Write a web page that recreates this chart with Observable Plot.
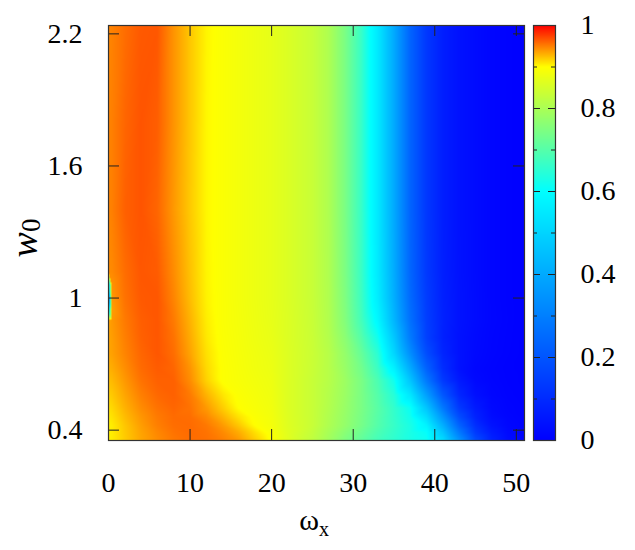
<!DOCTYPE html>
<html><head><meta charset="utf-8">
<script src="https://cdn.jsdelivr.net/npm/d3@7"></script>
<script src="https://cdn.jsdelivr.net/npm/@observablehq/plot@0.6"></script>
<style>
body{margin:0;background:#fff;}
#wrap{position:relative;width:635px;height:550px;background:#fff;}
#wrap svg{position:absolute;left:0;top:0;}
</style></head><body><div id="wrap"></div>
<script>
// grid of omega_x values (columns) and w0 values (rows)
const xs = [0,0.4,2,4,6,8,10,12,14,16,18,20,22,25,27,29,31,33,35,37,39,41,43,45,47,49,51];
const ys = [2.24,1.8,1.4,1.12,1.0,0.9,0.82,0.75,0.68,0.625,0.56,0.5,0.46,0.42,0.39,0.353];
// values, one row per w0 value
const r224 = [0.947,0.949,0.957,0.965,0.966,0.942,0.922,0.904,0.895,0.887,0.879,0.871,0.858,0.835,0.805,0.745,0.665,0.55,0.40,0.235,0.13,0.07,0.04,0.025,0.012,0.005,0.0];
const r180 = [0.948,0.950,0.960,0.967,0.963,0.942,0.922,0.903,0.895,0.887,0.879,0.871,0.858,0.835,0.805,0.745,0.665,0.55,0.40,0.235,0.13,0.07,0.04,0.025,0.012,0.005,0.0];
const r140 = [0.948,0.950,0.962,0.967,0.960,0.940,0.921,0.903,0.895,0.887,0.879,0.871,0.858,0.835,0.805,0.745,0.665,0.55,0.40,0.235,0.13,0.07,0.04,0.025,0.012,0.005,0.0];
const r112 = [0.945,0.946,0.957,0.966,0.964,0.945,0.924,0.904,0.895,0.887,0.879,0.871,0.858,0.835,0.806,0.747,0.668,0.553,0.405,0.24,0.133,0.072,0.041,0.025,0.012,0.005,0.0];
const r100 = [0.20,0.940,0.955,0.965,0.966,0.948,0.926,0.905,0.895,0.887,0.879,0.871,0.858,0.835,0.807,0.75,0.672,0.56,0.412,0.25,0.14,0.075,0.043,0.026,0.012,0.005,0.0];
const r090 = [0.935,0.940,0.952,0.963,0.966,0.952,0.930,0.907,0.895,0.888,0.880,0.872,0.859,0.836,0.808,0.755,0.68,0.585,0.43,0.265,0.145,0.078,0.043,0.026,0.013,0.006,0.0];
const r082 = [0.935,0.938,0.950,0.962,0.966,0.955,0.933,0.909,0.896,0.889,0.881,0.874,0.859,0.837,0.811,0.765,0.70,0.62,0.47,0.29,0.15,0.075,0.04,0.022,0.011,0.005,0.0];
const r075 = [0.935,0.937,0.948,0.960,0.966,0.957,0.936,0.912,0.897,0.890,0.883,0.876,0.86,0.838,0.815,0.775,0.72,0.65,0.505,0.335,0.18,0.085,0.04,0.02,0.01,0.004,0.0];
const r068 = [0.930,0.932,0.944,0.958,0.964,0.960,0.942,0.915,0.898,0.891,0.884,0.878,0.86,0.837,0.815,0.78,0.735,0.67,0.57,0.405,0.23,0.105,0.04,0.015,0.007,0.002,0.0];
const r0625 = [0.925,0.927,0.940,0.955,0.962,0.962,0.945,0.918,0.898,0.892,0.886,0.880,0.86,0.835,0.815,0.785,0.745,0.69,0.62,0.465,0.285,0.135,0.06,0.02,0.009,0.003,0.0];
const r056 = [0.918,0.921,0.935,0.950,0.959,0.962,0.952,0.930,0.910,0.896,0.889,0.882,0.86,0.835,0.812,0.783,0.745,0.70,0.645,0.545,0.375,0.205,0.09,0.035,0.013,0.005,0.001];
const r050 = [0.912,0.915,0.930,0.945,0.955,0.960,0.955,0.940,0.920,0.900,0.892,0.884,0.86,0.835,0.81,0.78,0.745,0.705,0.66,0.612,0.465,0.285,0.135,0.06,0.02,0.008,0.003];
const r046 = [0.908,0.911,0.926,0.941,0.952,0.958,0.957,0.947,0.930,0.911,0.896,0.886,0.861,0.835,0.807,0.777,0.742,0.702,0.662,0.62,0.52,0.35,0.18,0.08,0.028,0.011,0.004];
const r042 = [0.905,0.907,0.922,0.938,0.950,0.957,0.958,0.953,0.940,0.922,0.900,0.888,0.862,0.835,0.805,0.775,0.74,0.70,0.665,0.63,0.575,0.415,0.235,0.11,0.043,0.015,0.006];
const r039 = [0.905,0.907,0.921,0.936,0.947,0.955,0.958,0.955,0.946,0.932,0.912,0.893,0.864,0.83,0.797,0.762,0.727,0.69,0.66,0.63,0.605,0.465,0.285,0.135,0.06,0.02,0.008];
const r0353 = [0.905,0.907,0.920,0.935,0.945,0.953,0.957,0.956,0.950,0.940,0.920,0.897,0.865,0.825,0.79,0.75,0.715,0.68,0.655,0.63,0.615,0.52,0.35,0.18,0.08,0.028,0.011];
const rows = [r224,r180,r140,r112,r100,r090,r082,r075,r068,r0625,r056,r050,r046,r042,r039,r0353];
// thin dip along the left edge near w0 = 1
const sliverX = [0,0,0.4,0.4];
const sliverY = [1.06,0.95,1.06,0.95];
const sliverV = [0.45,0.45,0.942,0.937];

const xTicks = [0,10,20,30,40,50];
const yTicks = [0.4,1,1.6,2.2];
const cTicks = [0,0.2,0.4,0.6,0.8,1];
const cMinor = [0.1,0.3,0.5,0.7,0.9];
const paletteStops = [0,0.6,0.9,1];
const paletteColors = ["#0000ff","#00ffff","#ffff00","#ff0000"];

const points = [];
ys.forEach((y,i)=>xs.forEach((x,j)=>points.push({x, y, v: rows[i][j]})));
sliverY.forEach((y,i)=>points.push({x: sliverX[i], y, v: sliverV[i]}));

const fam = "Liberation Serif, Times New Roman, DejaVu Serif, serif";
const colorOpts = {type:"linear", domain: paletteStops, range: paletteColors, interpolate:"rgb", clamp:true};
const font = {fontFamily: fam, fontSize:"28px", color:"#000", background:"transparent", overflow:"visible"};
const fmt = d => String(d);
const W = 635, H = 550;
const mL = 108, mR = 111, mT = 25, mB = 110;
const fw = W - mL - mR, fh = H - mT - mB;
const tk = 11;

const main = Plot.plot({
  width: W, height: H,
  marginLeft: mL, marginRight: mR, marginTop: mT, marginBottom: mB,
  x: {domain:[0,51]},
  y: {domain:[0.353,2.238]},
  color: colorOpts,
  style: font,
  marks: [
    Plot.raster(points, {x:"x", y:"y", fill:"v", interpolate:"barycentric", pixelSize:1}),
    Plot.tickX(xTicks, {x:d=>d, insetTop: fh - tk, stroke:"#222"}),
    Plot.tickX(xTicks, {x:d=>d, insetBottom: fh - tk, stroke:"#222"}),
    Plot.tickY(yTicks, {y:d=>d, insetRight: fw - tk, stroke:"#222"}),
    Plot.tickY(yTicks, {y:d=>d, insetLeft: fw - tk, stroke:"#222"}),
    Plot.frame({stroke:"#333", strokeWidth:1.2}),
    Plot.axisX(xTicks, {anchor:"bottom", tickSize:0, tickPadding:32, label:null, fontSize:28, fontFamily:fam, tickFormat:fmt}),
    Plot.axisY(yTicks, {anchor:"left", tickSize:0, tickPadding:26, label:null, fontSize:28, fontFamily:fam, tickFormat:fmt})
  ]
});

const cL = 533, cR = 555, cw = cR - cL;
const bar = Plot.plot({
  width: W, height: H,
  marginLeft: cL, marginRight: W - cR, marginTop: mT, marginBottom: mB,
  x: {domain:[0,1], axis:null},
  y: {domain:[0,1]},
  color: colorOpts,
  style: font,
  marks: [
    Plot.raster({x1:0, x2:1, y1:0, y2:1, fill:(x,y)=>y, pixelSize:1}),
    Plot.tickY(cTicks, {y:d=>d, insetRight: cw - 7, stroke:"#222"}),
    Plot.tickY(cTicks, {y:d=>d, insetLeft: cw - 7, stroke:"#222"}),
    Plot.tickY(cMinor, {y:d=>d, insetRight: cw - 4, stroke:"#222"}),
    Plot.tickY(cMinor, {y:d=>d, insetLeft: cw - 4, stroke:"#222"}),
    Plot.frame({stroke:"#333", strokeWidth:1.2}),
    Plot.axisY(cTicks, {anchor:"right", tickSize:0, tickPadding:25, label:null, fontSize:28, fontFamily:fam, tickFormat:fmt})
  ]
});

const wrap = document.getElementById("wrap");
wrap.appendChild(main);
wrap.appendChild(bar);

const svg = d3.select(main);
const xl = svg.append("text").attr("x", 314).attr("y", 530).attr("text-anchor","middle")
  .attr("font-family", fam).attr("font-size", 30).attr("fill","#000");
xl.append("tspan").text("ω");
xl.append("tspan").attr("font-size", 20).attr("dy", 6).text("x");

const yl = svg.append("text").attr("transform","translate(37,238) rotate(-90)")
  .attr("text-anchor","middle")
  .attr("font-family", fam).attr("font-size", 38).attr("fill","#000");
yl.append("tspan").attr("font-style","italic").text("w");
yl.append("tspan").attr("font-size", 27).attr("dy", 3).text("0");
</script></body></html>
